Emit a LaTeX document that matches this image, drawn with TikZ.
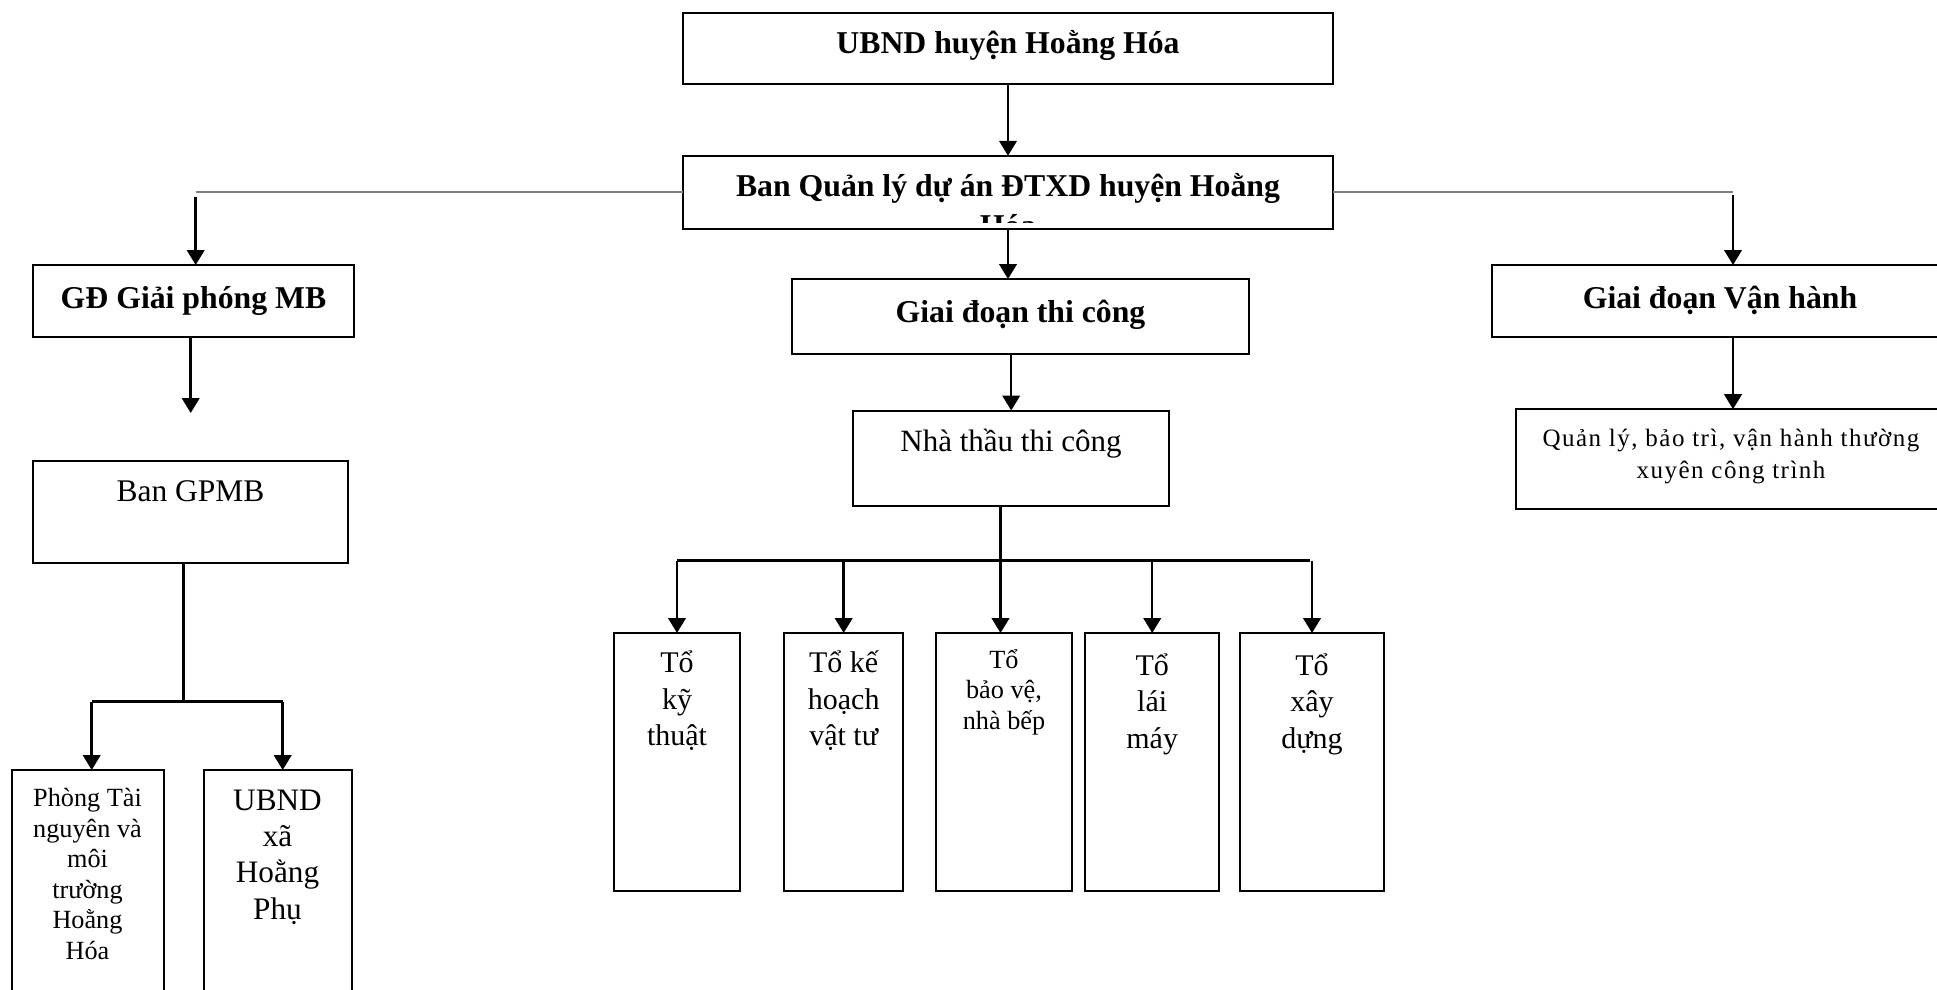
\documentclass[tikz,border=0pt]{standalone}
\usepackage{fontspec}
\setmainfont{Liberation Serif}
\newfontfamily\spacedfont[LetterSpace=6]{Liberation Serif}
\usetikzlibrary{arrows.meta}

\begin{document}
\begin{tikzpicture}[x=0.4pt,y=-0.4pt,
  box/.style 2 args={draw,line width=0.8pt,inner sep=0pt,outer sep=0pt,minimum width=#1*0.4pt,minimum height=#2*0.4pt},
  arr/.style={->,>={Triangle[width=7pt,length=6pt]},line width=1pt},
  lnk/.style={line width=1pt},
  conn/.style={gray,line width=0.8pt},
  boldtxt/.style={anchor=base,inner sep=0pt,align=center,font=\fontsize{12.7}{15.7}\selectfont\bfseries},
  bigtxt/.style={anchor=base,inner sep=0pt,align=center,font=\fontsize{12}{14.6}\selectfont},
  smalltxt/.style={anchor=base,inner sep=0pt,align=center,font=\fontsize{10.5}{12.2}\selectfont},
  qltxt/.style={anchor=base,inner sep=0pt,align=center,font=\spacedfont\fontsize{10}{12.5}\selectfont}]
\useasboundingbox (0,0) rectangle (1937,989);

\node[box={650}{71}] (ubnd) at (1008,48) {};
\node[boldtxt] (ubndt) at (1008,53.3) {UBND huyện Hoằng Hóa};
\node[box={650}{73}] (bql) at (1008,192.3) {};
\begin{scope}
\clip (683,150) rectangle (1333,222);
\node[boldtxt] (bqlt) at (1008,236) {Ban Quản lý dự án ĐTXD huyện Hoằng\\Hóa};
\end{scope}

\node[box={321}{72}] (gd) at (193.5,301) {};
\node[boldtxt] (gdt) at (193.5,308.3) {GĐ Giải phóng MB};
\node[box={457}{75}] (gtc) at (1020.2,316.5) {};
\node[boldtxt] (gtct) at (1020.5,322.7) {Giai đoạn thi công};
\node[box={457}{72}] (vh) at (1720,301) {};
\node[boldtxt] (vht) at (1720,308.5) {Giai đoạn Vận hành};

\node[box={431}{100}] (ql) at (1731,459.2) {};
\node[qltxt] (qlt) at (1731,478) {Quản lý, bảo trì, vận hành thường\\xuyên công trình};
\node[box={315}{102}] (bgp) at (190.5,512) {};
\node[bigtxt,font=\fontsize{12.6}{15}\selectfont] (bgpt) at (190.5,501) {Ban GPMB};
\node[box={316}{95}] (nt) at (1011.2,458) {};
\node[bigtxt,font=\fontsize{12.4}{15}\selectfont] (ntt) at (1011,451.7) {Nhà thầu thi công};

\foreach \n/\x/\w in {t1/677/126,t2/843.7/119,t3/1004.2/136,t4/1152.2/134,t5/1312/144}
  \node[box={\w}{258}] (\n) at (\x,762) {};
\node[bigtxt] (t1t) at (677,745.7) {Tổ\\kỹ\\thuật};
\node[bigtxt] (t2t) at (843.7,745.7) {Tổ kế\\hoạch\\vật tư};
\node[smalltxt] (t3t) at (1004,729.3) {Tổ\\bảo vệ,\\nhà bếp};
\node[bigtxt] (t4t) at (1152.2,748.3) {Tổ\\lái\\máy};
\node[bigtxt] (t5t) at (1312,748.3) {Tổ\\xây\\dựng};

\node[box={152}{260}] (ptn) at (87.5,900) {};
\node[smalltxt] (ptnt) at (87.5,959) {Phòng Tài\\nguyên và\\môi\\trường\\Hoằng\\Hóa};
\node[box={148}{260}] (ubx) at (277.5,900) {};
\node[bigtxt,font=\fontsize{12.5}{14.5}\selectfont] (ubxt) at (277.5,919) {UBND\\xã\\Hoằng\\Phụ};

\coordinate (jl) at (195.7,192.3);
\coordinate (jr) at (1733,192.3);
\draw[conn] (jl) -- (bql.west);
\draw[conn] (bql.east) -- (jr);
\draw[arr] ([yshift=-2pt]jl) -- (jl |- gd.north);
\draw[arr] ([yshift=-1pt]jr) -- (jr |- vh.north);
\draw[arr] (ubnd) -- (bql);
\draw[arr] (bql.south) -- (bql.south |- gtc.north);
\draw[arr] (nt.north |- gtc.south) -- (nt.north);
\draw[arr] (jr |- vh.south) -- (jr |- ql.north);

\coordinate (ga) at (190.7,413);
\draw[arr] (ga |- gd.south) -- (ga);
\coordinate (gj) at (183.5,701.7);
\coordinate (gl) at (91.7,701.7);
\coordinate (gr) at (282.7,701.7);
\draw[lnk] (gj |- bgp.south) -- (gj);
\draw[lnk] (gl) -- (gr);
\draw[arr] (gl) -- (gl |- ptn.north);
\draw[arr] (gr) -- (gr |- ubx.north);

\coordinate (hl) at (677,560.7);
\coordinate (hr) at (1310,560.7);
\coordinate (hub) at (1000.5,560.7);
\draw[lnk] (hl) -- (hr);
\draw[arr] (hub |- nt.south) -- (hub |- t3.north);
\foreach \n in {t1,t2,t4,t5}
  \draw[arr] (\n.north |- hl) -- (\n.north);
\end{tikzpicture}
\end{document}
